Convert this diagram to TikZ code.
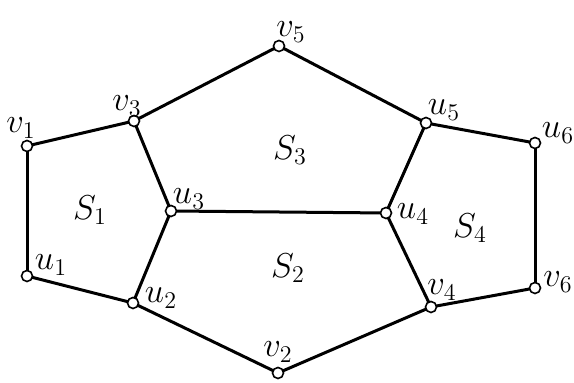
\documentclass[tikz,border=0pt]{standalone}
\usepackage{amsmath,amssymb}
\usepackage{tikz}
\tikzset{vertex/.style={circle,draw,fill=white,line width=.8pt,inner sep=0pt,minimum size=5.5pt},edge/.style={line width=1.5pt},vlabel/.style={font=\LARGE,inner sep=0pt},face/.style={font=\LARGE,inner sep=0pt}}

\begin{document}
\begin{tikzpicture}[x=.5pt,y=-.5pt]
 \useasboundingbox (0,0) rectangle (574,383);
 % vertices: name/x/y
 \foreach \n/\x/\y in {v1/27/146,v3/134/121,v5/279/46,u5/426/123,u6/535/143,u3/171/211,u4/386/213,u1/27/276,u2/133/303,v2/278/373,v4/431/307,v6/535/288}
   \coordinate (\n) at (\x,\y);
 \foreach \a/\b in {v1/v3,v3/v5,v5/u5,u5/u6,u6/v6,v6/v4,v4/v2,v2/u2,u2/u1,u1/v1,v3/u3,u3/u2,u3/u4,u4/u5,u4/v4}
   \draw[edge] (\a)--(\b);
 \foreach \n in {v1,v3,v5,u5,u6,u3,u4,u1,u2,v2,v4,v6}
   \node[vertex] (c\n) at (\n) {};
 % vertex labels
 \foreach \n/\x/\y/\t in {v1/21/128/v_1,v3/127/106/v_3,v5/291/32/v_5,u5/444/110/u_5,u6/558/133/u_6,u3/189/199/u_3,u4/413/214/u_4,u1/51/265/u_1,u2/161/298/u_2,v2/278/352/v_2,v4/442/290/v_4,v6/558/282/v_6}
   \node[vlabel] (l\n) at (\x,\y) {$\t$};
 % faces
 \foreach \i/\x/\y in {1/90/210,2/288/268,3/290/150,4/470/228}
   \node[face] (s\i) at (\x,\y) {$S_\i$};
\end{tikzpicture}
\end{document}
